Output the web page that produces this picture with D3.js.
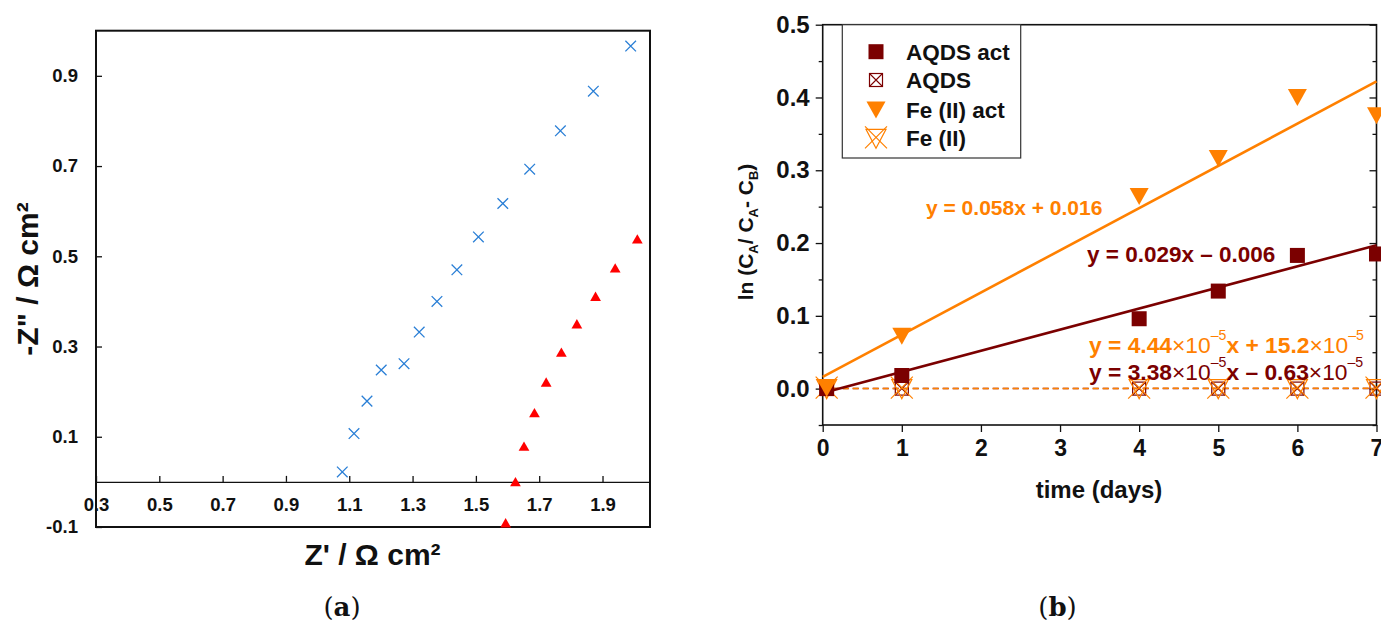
<!DOCTYPE html>
<html>
<head>
<meta charset="utf-8">
<script src="https://cdn.jsdelivr.net/npm/d3@7"></script>
<style>
  body { margin: 0; background: #fff; }
  svg { display: block; }
  text { font-family: "Liberation Sans", Arial, sans-serif; }
</style>
</head>
<body>
<svg id="fig" width="1381" height="623"></svg>
<script>
// ---- (a) Nyquist plot: Z' vs -Z'' ----
const zRe1 = [1.078, 1.115, 1.156, 1.201, 1.273, 1.321, 1.377, 1.440, 1.508, 1.585, 1.670, 1.767, 1.871, 1.989];
const zIm1 = [0.022, 0.107, 0.179, 0.248, 0.262, 0.332, 0.400, 0.470, 0.543, 0.617, 0.693, 0.778, 0.866, 0.966];
const zRe2 = [1.594, 1.625, 1.652, 1.685, 1.722, 1.770, 1.819, 1.878, 1.940, 2.010];
const zIm2 = [-0.094, -0.003, 0.076, 0.150, 0.218, 0.284, 0.347, 0.408, 0.471, 0.535];
const nyqXTicks = [0.3, 0.5, 0.7, 0.9, 1.1, 1.3, 1.5, 1.7, 1.9];
const nyqXLabels = ["0.3", "0.5", "0.7", "0.9", "1.1", "1.3", "1.5", "1.7", "1.9"];
const nyqYTicks = [-0.1, 0.1, 0.3, 0.5, 0.7, 0.9];
const nyqYLabels = ["-0.1", "0.1", "0.3", "0.5", "0.7", "0.9"];

// ---- (b) ln(CA/(CA-CB)) vs time ----
const days = [0.05, 1, 4, 5, 6, 7];
const aqdsAct = [0.000, 0.018, 0.096, 0.134, 0.183, 0.185];
const aqdsCtrl = [0, 0, 0, 0, 0, 0];
const feAct = [0.000, 0.072, 0.264, 0.316, 0.400, 0.375];
const feCtrl = [0, 0, 0, 0, 0, 0];
const seriesNames = ["AQDS act", "AQDS", "Fe (II) act", "Fe (II)"];
// linear fits, same order as seriesNames
const fitSlope = [0.029, 3.38e-5, 0.058, 4.44e-5];
const fitIntercept = [-0.006, -0.63e-5, 0.016, 15.2e-5];
const timeTicks = [0, 1, 2, 3, 4, 5, 6, 7];
const lnTicks = [0, 0.1, 0.2, 0.3, 0.4, 0.5];
const lnMinorTicks = [-0.05, 0.05, 0.15, 0.25, 0.35, 0.45];

const DARKRED = "#7b0000", ORANGE = "#ff8000", BLUE = "#2a7fd6", RED = "#ff0000";
const SANS = '"Liberation Sans", Arial, sans-serif';

const svg = d3.select("#fig");
svg.append("rect").attr("width", 1381).attr("height", 623).attr("fill", "#fff");

function styleAxis(g, size) {
  g.attr("font-family", SANS);
  g.selectAll("text").attr("font-size", size).attr("font-weight", "bold").attr("fill", "#111");
  g.selectAll("line").attr("stroke", "#111").attr("stroke-width", 1.3);
}

// ================= panel (a) =================
const ax = d3.scaleLinear().domain([0.3, 2.05]).range([96, 650]);
const ay = d3.scaleLinear().domain([-0.1, 1.0]).range([527, 30.7]);

const gxa = svg.append("g")
  .attr("transform", `translate(0,${ay(0)})`)
  .call(d3.axisBottom(ax).tickValues(nyqXTicks).tickFormat((d, i) => nyqXLabels[i])
    .tickSizeInner(-6).tickSizeOuter(0).tickPadding(16));
styleAxis(gxa, 18.5);
gxa.select(".domain").attr("stroke", "#111").attr("stroke-width", 1.3);

const gya = svg.append("g")
  .attr("transform", `translate(${ax(0.3)},0)`)
  .call(d3.axisLeft(ay).tickValues(nyqYTicks).tickFormat((d, i) => nyqYLabels[i])
    .tickSizeInner(-6).tickSizeOuter(0).tickPadding(18));
styleAxis(gya, 18.5);
gya.select(".domain").remove();

// frame
svg.append("rect")
  .attr("x", ax(0.3)).attr("y", ay(1.0))
  .attr("width", ax(2.05) - ax(0.3)).attr("height", ay(-0.1) - ay(1.0))
  .attr("fill", "none").attr("stroke", "#111").attr("stroke-width", 2);

// blue crosses
svg.append("g").selectAll("path").data(zRe1.map((x, i) => [x, zIm1[i]])).join("path")
  .attr("transform", d => `translate(${ax(d[0])},${ay(d[1])})`)
  .attr("d", "M-5.3,-5.3L5.3,5.3M5.3,-5.3L-5.3,5.3")
  .attr("stroke", BLUE).attr("stroke-width", 1.3).attr("fill", "none");

// red triangles
svg.append("g").selectAll("path").data(zRe2.map((x, i) => [x, zIm2[i]])).join("path")
  .attr("transform", d => `translate(${ax(d[0])},${ay(d[1])})`)
  .attr("d", d3.symbol(d3.symbolTriangle, 50)())
  .attr("fill", RED);

// titles
svg.append("text").attr("x", 372.5).attr("y", 565).attr("text-anchor", "middle")
  .attr("font-size", 30).attr("font-weight", "bold").attr("fill", "#111")
  .text("Z' / Ω cm²");
svg.append("text").attr("transform", "translate(38,279) rotate(-90)").attr("text-anchor", "middle")
  .attr("font-size", 30).attr("font-weight", "bold").attr("fill", "#111")
  .text('-Z" / Ω cm²');

// ================= panel (b) =================
const bx = d3.scaleLinear().domain([0, 7]).range([822.7, 1376.5]);
const by = d3.scaleLinear().domain([-0.05, 0.5]).range([425, 24.7]);

const gyb = svg.append("g").attr("transform", `translate(${bx(0)},0)`)
  .call(d3.axisLeft(by).tickValues(lnTicks).tickFormat(d3.format(".1f"))
    .tickSizeInner(7).tickSizeOuter(0).tickPadding(6));
styleAxis(gyb, 24);
gyb.select(".domain").remove();
const gybm = svg.append("g").attr("transform", `translate(${bx(0)},0)`)
  .call(d3.axisLeft(by).tickValues(lnMinorTicks).tickFormat("").tickSizeInner(4).tickSizeOuter(0));
styleAxis(gybm, 24);
gybm.select(".domain").remove();

const gyr = svg.append("g").attr("transform", `translate(${bx(7)},0)`)
  .call(d3.axisRight(by).tickValues(lnTicks).tickFormat("").tickSizeInner(-7).tickSizeOuter(0));
styleAxis(gyr, 24);
gyr.select(".domain").remove();
const gyrm = svg.append("g").attr("transform", `translate(${bx(7)},0)`)
  .call(d3.axisRight(by).tickValues(lnMinorTicks).tickFormat("").tickSizeInner(-4).tickSizeOuter(0));
styleAxis(gyrm, 24);
gyrm.select(".domain").remove();

const gxb = svg.append("g").attr("transform", `translate(0,${by(-0.05)})`)
  .call(d3.axisBottom(bx).tickValues(timeTicks).tickFormat(d3.format("d"))
    .tickSizeInner(7).tickSizeOuter(0).tickPadding(8));
styleAxis(gxb, 23);
gxb.select(".domain").remove();

svg.append("rect")
  .attr("x", bx(0)).attr("y", by(0.5))
  .attr("width", bx(7) - bx(0)).attr("height", by(-0.05) - by(0.5))
  .attr("fill", "none").attr("stroke", "#111").attr("stroke-width", 1.6);

// fitted lines
const fitColor = [DARKRED, DARKRED, ORANGE, ORANGE];
const fitDashed = [false, true, false, true];
const fitOrder = [1, 3, 0, 2];
const fitLine = d3.line().x(d => bx(d[0])).y(d => by(d[1]));
fitOrder.forEach(i => {
  const pts = [0, 7].map(t => [t, fitSlope[i] * t + fitIntercept[i]]);
  svg.append("path").attr("d", fitLine(pts))
    .attr("fill", "none").attr("stroke", fitColor[i])
    .attr("stroke-width", fitDashed[i] ? 1.5 : 2.6)
    .attr("stroke-dasharray", fitDashed[i] ? "6,4" : null);
});

// marker shapes
const markers = {
  filledSquare: g => g.append("rect").attr("x", -7.5).attr("y", -7.5).attr("width", 15).attr("height", 15)
    .attr("fill", DARKRED),
  crossSquare: g => {
    g.append("rect").attr("x", -6.5).attr("y", -6.5).attr("width", 13).attr("height", 13)
      .attr("fill", "none").attr("stroke", DARKRED).attr("stroke-width", 1.2);
    g.append("path").attr("d", "M-6.5,-6.5L6.5,6.5M6.5,-6.5L-6.5,6.5")
      .attr("stroke", DARKRED).attr("stroke-width", 1.1).attr("fill", "none");
  },
  filledDown: g => g.append("path").attr("d", "M-9.5,-8.5L9.5,-8.5L0,8.5Z").attr("fill", ORANGE),
  crossDown: g => {
    g.append("path").attr("d", "M-10,-9L10,-9L0,10Z")
      .attr("fill", "none").attr("stroke", ORANGE).attr("stroke-width", 1.2);
    g.append("path").attr("d", "M-11,-12L11,10M11,-12L-11,10")
      .attr("fill", "none").attr("stroke", ORANGE).attr("stroke-width", 1.2);
  }
};
const seriesValues = [aqdsAct, aqdsCtrl, feAct, feCtrl];
const seriesMarker = ["filledSquare", "crossSquare", "filledDown", "crossDown"];
const drawOrder = [1, 3, 0, 2];

drawOrder.forEach(s => {
  svg.append("g").selectAll("g").data(days.map((t, i) => [t, seriesValues[s][i]])).join("g")
    .attr("transform", d => `translate(${bx(d[0])},${by(d[1])})`)
    .each(function () { markers[seriesMarker[s]](d3.select(this)); });
});

// equations of the fits
function equation(x, y, color, size, parts) {
  const t = svg.append("text").attr("x", x).attr("y", y).attr("fill", color).attr("font-size", size);
  parts.forEach(p => {
    const ts = t.append("tspan").text(p[0]);
    if (p[1] === "b") ts.attr("font-weight", "bold");
    if (p[1] === "sup") ts.attr("font-size", size * 0.62).attr("dy", -13);
    if (p[2]) ts.attr("dy", 13);
  });
}
equation(926, 215, ORANGE, 21, [["y = 0.058x + 0.016", "b"]]);
equation(1087, 262, DARKRED, 22.5, [["y = 0.029x – 0.006", "b"]]);
equation(1089, 353, ORANGE, 22.8, [["y = 4.44", "b"], ["×10", "n"], ["–5", "sup"], ["x + 15.2", "b", true], ["×10", "n"], ["–5", "sup"]]);
equation(1089, 380, DARKRED, 22.8, [["y = 3.38", "b"], ["×10", "n"], ["–5", "sup"], ["x – 0.63", "b", true], ["×10", "n"], ["–5", "sup"]]);

// legend
const legend = svg.append("g");
legend.append("rect").attr("x", 842.3).attr("y", by(0.5)).attr("width", 178.4).attr("height", 133.3)
  .attr("fill", "#fff").attr("stroke", "#333").attr("stroke-width", 1.2);
const legendRowY = [51.7, 80, 110, 138.3];
seriesNames.forEach((name, i) => {
  const g = legend.append("g").attr("transform", `translate(876,${legendRowY[i]})`);
  markers[seriesMarker[i]](g);
  legend.append("text").attr("x", 906).attr("y", legendRowY[i] + 8)
    .attr("font-size", 22.5).attr("font-weight", "bold").attr("fill", "#111").text(name);
});

// axis titles
svg.append("text").attr("x", 1099).attr("y", 498).attr("text-anchor", "middle")
  .attr("font-size", 24).attr("font-weight", "bold").attr("fill", "#111").text("time (days)");

const yt = svg.append("text").attr("transform", "translate(753,232) rotate(-90)").attr("text-anchor", "middle")
  .attr("font-size", 21).attr("font-weight", "bold").attr("fill", "#111");
[["ln (C", 0], ["A", 1], ["/ C", -1], ["A", 1], ["- C", -1], ["B", 1], [")", -1]].forEach(p => {
  const ts = yt.append("tspan").text(p[0]);
  if (p[1] === 1) ts.attr("font-size", 13).attr("dy", 5);
  if (p[1] === -1) ts.attr("dy", -5);
});

// panel captions
[["a", 342], ["b", 1057.5]].forEach(c => {
  const t = svg.append("text").attr("x", c[1]).attr("y", 616).attr("text-anchor", "middle")
    .attr("font-size", 26).attr("fill", "#111")
    .style("font-family", '"DejaVu Serif", "Liberation Serif", serif');
  t.append("tspan").text("(");
  t.append("tspan").attr("font-weight", "bold").text(c[0]);
  t.append("tspan").text(")");
});
</script>
</body>
</html>
